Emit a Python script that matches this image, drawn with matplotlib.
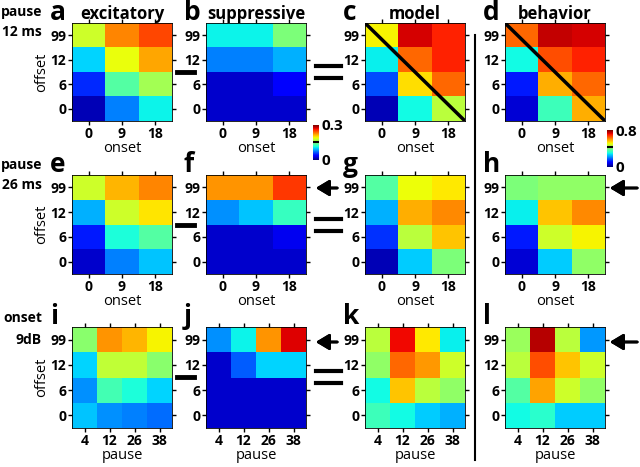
import numpy as np
import matplotlib.pyplot as plt
from matplotlib.lines import Line2D

plt.rcParams['font.family'] = ['Open Sans', 'DejaVu Sans']
plt.rcParams['font.weight'] = 'bold'

# --- Data (rows: offset 0, 6, 12, 99 from bottom to top) ---
OFFSETS = ['0', '6', '12', '99']
ONSETS = ['0', '9', '18']
PAUSES = ['4', '12', '26', '38']

# pause 12 ms
exc_12 = [[0.015, 0.075, 0.11],
          [0.05, 0.135, 0.165],
          [0.10, 0.19, 0.22],
          [0.18, 0.23, 0.25]]
sup_12 = [[0.02, 0.02, 0.02],
          [0.02, 0.02, 0.035],
          [0.075, 0.075, 0.09],
          [0.11, 0.11, 0.15]]
model_12 = [[0.04, 0.30, 0.46],
            [0.16, 0.54, 0.64],
            [0.29, 0.64, 0.70],
            [0.52, 0.74, 0.70]]
behav_12 = [[0.06, 0.34, 0.58],
            [0.12, 0.58, 0.64],
            [0.30, 0.66, 0.70],
            [0.64, 0.75, 0.74]]

# pause 26 ms
exc_26 = [[0.02, 0.075, 0.095],
          [0.045, 0.115, 0.135],
          [0.09, 0.18, 0.20],
          [0.18, 0.215, 0.23]]
sup_26 = [[0.02, 0.02, 0.02],
          [0.02, 0.02, 0.03],
          [0.08, 0.095, 0.125],
          [0.225, 0.225, 0.255]]
model_26 = [[0.04, 0.26, 0.40],
            [0.14, 0.46, 0.56],
            [0.24, 0.58, 0.61],
            [0.36, 0.51, 0.53]]
behav_26 = [[0.06, 0.26, 0.42],
            [0.12, 0.48, 0.52],
            [0.29, 0.56, 0.61],
            [0.40, 0.42, 0.42]]

# onset 9 dB, columns = pause
exc_9db = [[0.095, 0.08, 0.075, 0.07],
           [0.08, 0.13, 0.115, 0.10],
           [0.10, 0.175, 0.175, 0.155],
           [0.155, 0.225, 0.215, 0.195]]
sup_9db = [[0.02, 0.02, 0.02, 0.02],
           [0.02, 0.02, 0.02, 0.02],
           [0.02, 0.065, 0.10, 0.10],
           [0.08, 0.11, 0.225, 0.275]]
model_9db = [[0.34, 0.30, 0.26, 0.24],
             [0.30, 0.56, 0.46, 0.42],
             [0.42, 0.64, 0.60, 0.48],
             [0.46, 0.72, 0.53, 0.29]]
behav_9db = [[0.30, 0.32, 0.26, 0.26],
             [0.36, 0.59, 0.48, 0.42],
             [0.46, 0.66, 0.56, 0.48],
             [0.43, 0.76, 0.46, 0.22]]

W, H = 640, 467
fig = plt.figure(figsize=(W / 100, H / 100), dpi=100)


def fx(px):
    return px / W


def fy(py):
    return 1 - py / H


col_x = [72, 206, 365, 505]
row_y = [(23, 121), (175, 274), (327, 428)]
panel_w = 100

rows = [
    (exc_12, sup_12, model_12, behav_12, ONSETS, 'onset'),
    (exc_26, sup_26, model_26, behav_26, ONSETS, 'onset'),
    (exc_9db, sup_9db, model_9db, behav_9db, PAUSES, 'pause'),
]
letters = 'abcdefghijkl'
titles = ['excitatory', 'suppressive', 'model', 'behavior']
vmaxs = [0.3, 0.3, 0.8, 0.8]

k = 0
for r, (e, s, m, b, xt, xl) in enumerate(rows):
    top, bot = row_y[r]
    for c, data in enumerate([e, s, m, b]):
        ax = fig.add_axes([fx(col_x[c]), fy(bot), fx(panel_w), (bot - top) / H])
        arr = np.array(data)
        ny, nx = arr.shape
        ax.imshow(arr, cmap='jet', vmin=0, vmax=vmaxs[c], origin='lower',
                  aspect='auto', interpolation='nearest',
                  extent=(-0.5, nx - 0.5, -0.5, ny - 0.5))
        ax.set_xticks(range(nx))
        ax.set_xticklabels(xt)
        ax.set_yticks(range(ny))
        ax.set_yticklabels(OFFSETS)
        ax.tick_params(direction='out', length=3, width=1, top=True, right=True,
                       labeltop=False, labelright=False, labelsize=10, pad=1)
        for sp in ax.spines.values():
            sp.set_linewidth(0.6)
        ax.set_xlabel(xl, fontsize=10.5, labelpad=0)
        if c == 0:
            ax.set_ylabel('offset', fontsize=10.5, labelpad=1)
        if r == 0:
            ax.set_title(titles[c], fontsize=12, fontweight='bold', pad=3)
            if c >= 2:
                ax.plot([-0.5, nx - 0.5], [ny - 0.5, -0.5], color='black', lw=2.5,
                        solid_capstyle='butt')
        fig.text(fx(col_x[c] - 22), fy(top - 3), letters[k], fontsize=19,
                 fontweight='bold', ha='left', va='baseline')
        k += 1

# row labels
fig.text(fx(42), fy(12), 'pause', fontsize=10, ha='right', va='center')
fig.text(fx(42), fy(32), '12 ms', fontsize=10, ha='right', va='center')
fig.text(fx(42), fy(165), 'pause', fontsize=10, ha='right', va='center')
fig.text(fx(42), fy(185), '26 ms', fontsize=10, ha='right', va='center')
fig.text(fx(42), fy(318), 'onset', fontsize=10, ha='right', va='center')
fig.text(fx(42), fy(340), '9dB', fontsize=10, ha='right', va='center')

# minus and equals signs
for yc in [72, 225, 377]:
    fig.add_artist(Line2D([fx(177), fx(194)], [fy(yc), fy(yc)], color='black', lw=3.5))
    for dy in (-6, 6):
        fig.add_artist(Line2D([fx(316), fx(341)], [fy(yc + dy), fy(yc + dy)],
                              color='black', lw=3))

# arrows
for ya in [188, 342]:
    for x0, x1 in [(340, 313), (640, 607)]:
        fig.add_artist(plt.annotate('', xy=(fx(x1), fy(ya)), xytext=(fx(x0), fy(ya)),
                                    xycoords='figure fraction',
                                    textcoords='figure fraction',
                                    arrowprops=dict(arrowstyle='-|>,head_length=0.5,head_width=0.3',
                                                    color='black', lw=2,
                                                    mutation_scale=16)))

# vertical separator
fig.add_artist(Line2D([fx(475), fx(475)], [fy(35), fy(460)], color='black', lw=1.5))

# colorbars
for (x0, y0, y1, vmax, lab, mark) in [(313, 125, 160, 0.3, '0.3', 0.15),
                                      (607, 130, 167, 0.8, '0.8', 0.44)]:
    cax = fig.add_axes([fx(x0), fy(y1), fx(6), (y1 - y0) / H])
    grad = np.linspace(0, vmax, 64).reshape(-1, 1)
    cax.imshow(grad, cmap='jet', vmin=0, vmax=vmax, origin='lower', aspect='auto',
               extent=(0, 1, 0, vmax))
    cax.axhline(mark, color='black', lw=1.5)
    cax.set_xticks([])
    cax.set_yticks([0, vmax])
    cax.set_yticklabels(['0', lab])
    cax.yaxis.tick_right()
    cax.tick_params(length=0, labelsize=11, pad=2)
    for sp in cax.spines.values():
        sp.set_visible(False)

fig.savefig('out.png', dpi=100)
